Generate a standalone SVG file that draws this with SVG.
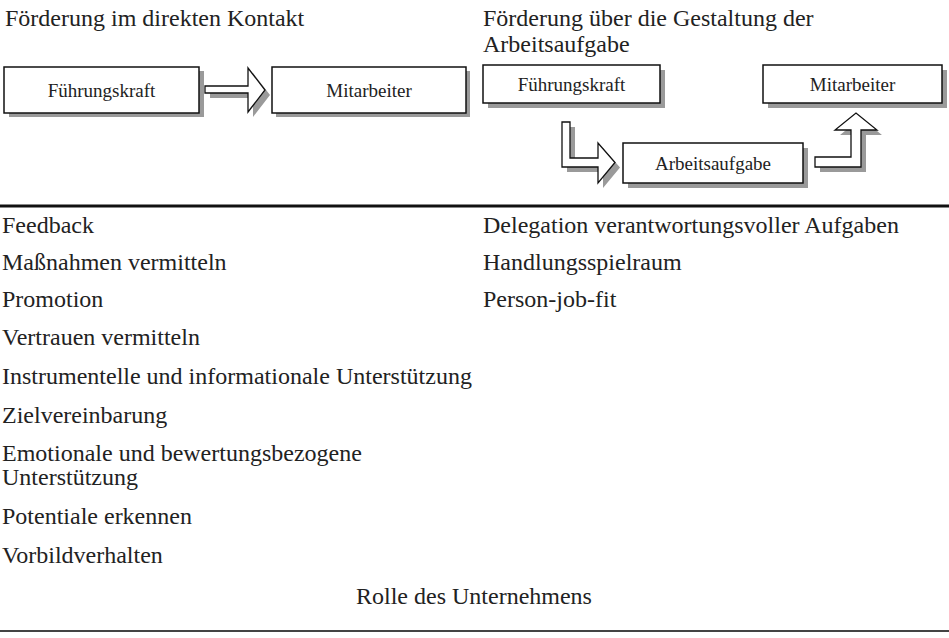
<svg xmlns="http://www.w3.org/2000/svg" width="949" height="638" viewBox="0 0 949 638">
<style>
text{font-family:"Liberation Serif","Times New Roman",serif;fill:#222;}
.h{font-size:24px;}
.b{font-size:19px;}
.l{font-size:24px;}
.box{fill:#fff;stroke:#111;stroke-width:1.5;}
.sh{fill:#9a9a9a;}
.ar{fill:#fff;stroke:#111;stroke-width:1.3;stroke-linejoin:miter;}
</style>
<rect width="949" height="638" fill="#fff"/>
<text class="h" x="5" y="26">Förderung im direkten Kontakt</text>
<text class="h" x="483" y="26">Förderung über die Gestaltung der</text>
<text class="h" x="483" y="52">Arbeitsaufgabe</text>

<g id="connectors">
<g transform="translate(5,5)" class="sh">
<polygon points="205,86 248,86 248,68 265,90 248,112 248,93 205,93"/>
<polygon points="562,122 570,122 570,158 598,158 598,143 615,162.5 598,183 598,167 562,167"/>
<polygon points="815,157 851,157 851,130 835,130 856,113 877,130 861,130 861,167 815,167"/>
</g>
<polygon class="ar" points="205,86 248,86 248,68 265,90 248,112 248,93 205,93"/>
<polygon class="ar" points="562,122 570,122 570,158 598,158 598,143 615,162.5 598,183 598,167 562,167"/>
<polygon class="ar" points="815,157 851,157 851,130 835,130 856,113 877,130 861,130 861,167 815,167"/>
</g>

<g id="fk1">
<rect class="sh" x="9" y="71" width="195" height="46"/>
<rect class="box" x="4" y="67" width="195" height="46"/>
<text class="b" x="101.5" y="97" text-anchor="middle">Führungskraft</text>
</g>
<g id="ma1">
<rect class="sh" x="276" y="71" width="194" height="46"/>
<rect class="box" x="272" y="67" width="194" height="46"/>
<text class="b" x="369" y="97" text-anchor="middle">Mitarbeiter</text>
</g>
<g id="fk2">
<rect class="sh" x="488" y="70" width="177" height="38"/>
<rect class="box" x="483" y="65" width="177" height="38"/>
<text class="b" x="571.5" y="91" text-anchor="middle">Führungskraft</text>
</g>
<g id="ma2">
<rect class="sh" x="768" y="70" width="179" height="38"/>
<rect class="box" x="763" y="65" width="179" height="38"/>
<text class="b" x="852.5" y="91" text-anchor="middle">Mitarbeiter</text>
</g>
<g id="aa">
<rect class="sh" x="628" y="148" width="180" height="40"/>
<rect class="box" x="623" y="143" width="180" height="40"/>
<text class="b" x="713" y="170" text-anchor="middle">Arbeitsaufgabe</text>
</g>

<line x1="0" y1="206" x2="949" y2="206" stroke="#111" stroke-width="3"/>

<g>
<text class="l" x="2" y="233">Feedback</text>
<text class="l" x="2" y="270">Maßnahmen vermitteln</text>
<text class="l" x="2" y="307">Promotion</text>
<text class="l" x="2" y="345">Vertrauen vermitteln</text>
<text class="l" x="2" y="384">Instrumentelle und informationale Unterstützung</text>
<text class="l" x="2" y="423">Zielvereinbarung</text>
<text class="l" x="2" y="461">Emotionale und bewertungsbezogene</text>
<text class="l" x="2" y="485">Unterstützung</text>
<text class="l" x="2" y="524">Potentiale erkennen</text>
<text class="l" x="2" y="563">Vorbildverhalten</text>
<text class="l" x="483" y="233">Delegation verantwortungsvoller Aufgaben</text>
<text class="l" x="483" y="270">Handlungsspielraum</text>
<text class="l" x="483" y="307">Person-job-fit</text>
<text class="l" x="474" y="604" text-anchor="middle">Rolle des Unternehmens</text>
</g>
<line x1="0" y1="631" x2="949" y2="631" stroke="#444" stroke-width="2"/>
</svg>
